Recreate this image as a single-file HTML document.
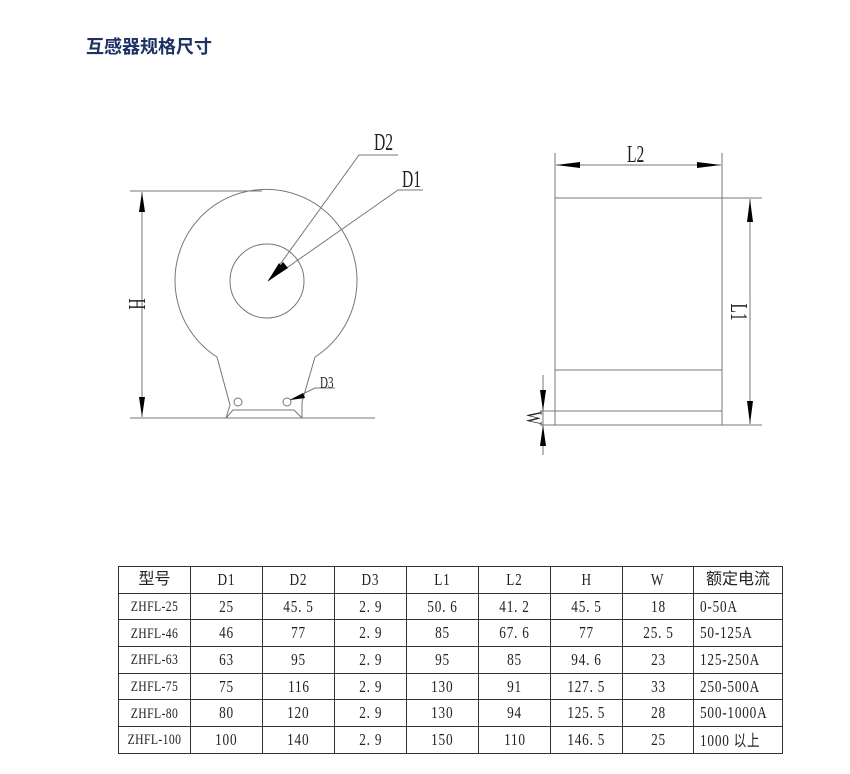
<!DOCTYPE html>
<html><head><meta charset="utf-8"><style>
body{margin:0;background:#fff;width:850px;height:774px;position:relative;overflow:hidden}
.t{position:absolute;left:86px;top:33px;font:bold 18px "Liberation Sans","Noto Sans CJK SC",sans-serif;color:#1d3163}
svg{position:absolute;left:0;top:0}
table{position:absolute;left:118px;top:566px;width:664px;table-layout:fixed;border-collapse:collapse;font-family:"Liberation Serif","Noto Serif CJK SC",serif;color:#222}
td{border:1px solid #333;height:25.7px;padding:0;text-align:center;font-size:17px;white-space:nowrap;line-height:18px;overflow:visible}
td.c{text-align:left;padding-left:6px}
.s{display:inline-block;transform:scaleX(0.78);letter-spacing:1px;white-space:nowrap;margin:0 -20px}
.c .s{transform-origin:left;margin:0 -40px 0 0}
.m{font-size:15px;letter-spacing:0.5px}
.h{font-family:"Liberation Sans","Noto Sans CJK SC",sans-serif;font-size:16px}
</style></head><body>
<div class="t">互感器规格尺寸</div>
<svg width="850" height="774" viewBox="0 0 850 774">
<g fill="none" stroke="#777" stroke-width="1">
<path d="M217 357 A91 91 0 1 1 315 357"/>
<path d="M217 357 L230 405 L226 418 M315 357 L302 402 L302 418"/>
<path d="M226 418 L233 410 L294 410 L302 418"/>
<circle cx="267" cy="281" r="37"/>
<circle cx="238" cy="402" r="4"/>
<circle cx="287" cy="402" r="4"/>
<line x1="130" y1="191" x2="262" y2="191"/>
<line x1="130" y1="418" x2="375" y2="418"/>
<line x1="142" y1="192" x2="142" y2="417"/>
<path d="M268 281 L359 155 L398 155"/>
<path d="M268 281 L398 190 L423 190"/>
<path d="M290 400 L315 388 L335 388"/>
<rect x="555" y="198" width="167" height="227"/>
<line x1="555" y1="370" x2="722" y2="370"/>
<line x1="540" y1="411" x2="722" y2="411"/>
<line x1="540" y1="425" x2="555" y2="425"/>
<line x1="555" y1="153" x2="555" y2="198"/>
<line x1="722" y1="153" x2="722" y2="198"/>
<line x1="556" y1="165" x2="721" y2="165"/>
<line x1="722" y1="198" x2="762" y2="198"/>
<line x1="722" y1="425" x2="762" y2="425"/>
<line x1="750" y1="199" x2="750" y2="424"/>
<line x1="543" y1="375" x2="543" y2="455"/>
</g>
<g fill="#000">
<path d="M142 192 L139 212 L145 212Z"/><path d="M142 417 L139 397 L145 397Z"/>
<path d="M268 281 L283 262 L288 268Z"/><path d="M268 281 L279 263 L284 270Z"/>
<path d="M290 400 L303 393 L305 398Z"/>
<path d="M556 165 L580 162 L580 168Z"/><path d="M721 165 L697 162 L697 168Z"/>
<path d="M750 199 L747 222 L753 222Z"/><path d="M750 424 L747 401 L753 401Z"/>
<path d="M543 411 L540 390 L546 390Z"/><path d="M543 425 L540 446 L546 446Z"/>
</g>
<g font-family="Liberation Serif,serif" fill="#222">
<text transform="translate(374,150) scale(0.65,1)" font-size="24">D2</text>
<text transform="translate(402,187) scale(0.65,1)" font-size="24">D1</text>
<text transform="translate(320,388) scale(0.65,1)" font-size="17">D3</text>
<text transform="translate(627,162) scale(0.65,1)" font-size="24">L2</text>
<text transform="translate(129,304) rotate(90) scale(0.65,1)" text-anchor="middle" font-size="24">H</text>
<text transform="translate(731,312) rotate(90) scale(0.65,1)" text-anchor="middle" font-size="24">L1</text>
<text transform="translate(527,418) rotate(90) scale(0.65,1)" text-anchor="middle" font-size="22">W</text>
</g>
</svg>
<table>
<colgroup><col style="width:72px"><col style="width:72px"><col style="width:72px"><col style="width:72px"><col style="width:72px"><col style="width:72px"><col style="width:72px"><col style="width:71px"><col style="width:89px"></colgroup>
<tr><td class="h">型号</td><td><span class="s">D1</span></td><td><span class="s">D2</span></td><td><span class="s">D3</span></td><td><span class="s">L1</span></td><td><span class="s">L2</span></td><td><span class="s">H</span></td><td><span class="s">W</span></td><td class="h">额定电流</td></tr>
<tr><td><span class="s m">ZHFL-25</span></td><td><span class="s">25</span></td><td><span class="s">45. 5</span></td><td><span class="s">2. 9</span></td><td><span class="s">50. 6</span></td><td><span class="s">41. 2</span></td><td><span class="s">45. 5</span></td><td><span class="s">18</span></td><td class="c"><span class="s">0-50A</span></td></tr>
<tr><td><span class="s m">ZHFL-46</span></td><td><span class="s">46</span></td><td><span class="s">77</span></td><td><span class="s">2. 9</span></td><td><span class="s">85</span></td><td><span class="s">67. 6</span></td><td><span class="s">77</span></td><td><span class="s">25. 5</span></td><td class="c"><span class="s">50-125A</span></td></tr>
<tr><td><span class="s m">ZHFL-63</span></td><td><span class="s">63</span></td><td><span class="s">95</span></td><td><span class="s">2. 9</span></td><td><span class="s">95</span></td><td><span class="s">85</span></td><td><span class="s">94. 6</span></td><td><span class="s">23</span></td><td class="c"><span class="s">125-250A</span></td></tr>
<tr><td><span class="s m">ZHFL-75</span></td><td><span class="s">75</span></td><td><span class="s">116</span></td><td><span class="s">2. 9</span></td><td><span class="s">130</span></td><td><span class="s">91</span></td><td><span class="s">127. 5</span></td><td><span class="s">33</span></td><td class="c"><span class="s">250-500A</span></td></tr>
<tr><td><span class="s m">ZHFL-80</span></td><td><span class="s">80</span></td><td><span class="s">120</span></td><td><span class="s">2. 9</span></td><td><span class="s">130</span></td><td><span class="s">94</span></td><td><span class="s">125. 5</span></td><td><span class="s">28</span></td><td class="c"><span class="s">500-1000A</span></td></tr>
<tr><td><span class="s m">ZHFL-100</span></td><td><span class="s">100</span></td><td><span class="s">140</span></td><td><span class="s">2. 9</span></td><td><span class="s">150</span></td><td><span class="s">110</span></td><td><span class="s">146. 5</span></td><td><span class="s">25</span></td><td class="c"><span class="s">1000 <span style="font-family:'Noto Sans CJK SC',sans-serif;font-size:16px">以上</span></span></td></tr>
</table>
</body></html>
